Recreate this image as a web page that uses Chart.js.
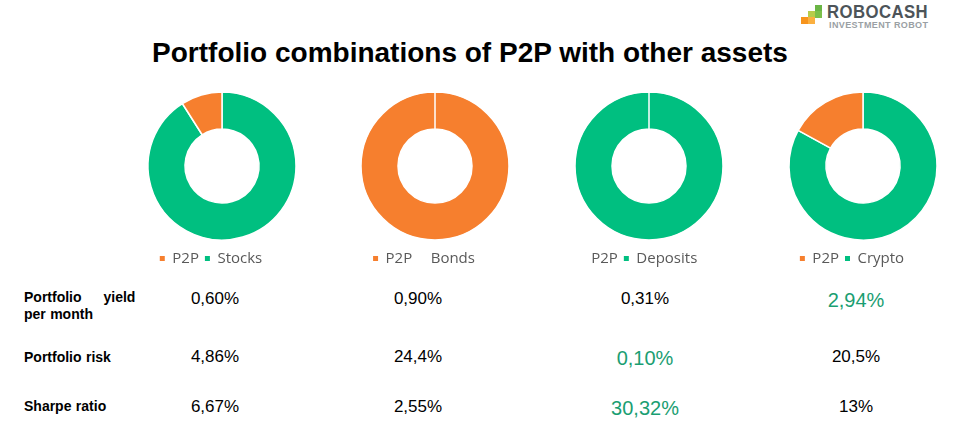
<!DOCTYPE html>
<html>
<head>
<meta charset="utf-8">
<script src="https://cdn.jsdelivr.net/npm/chart.js@4.4.1/dist/chart.umd.min.js"></script>
<style>
    body { margin: 0; background: #fff; width: 975px; height: 431px; position: relative; overflow: hidden; font-family: Arial, "Liberation Sans", sans-serif; }
    .title { position: absolute; left: 0; width: 940px; top: 37px; text-align: center; font-weight: bold; font-size: 28px; color: #000; }
    .chart-box { position: absolute; top: 87px; width: 214px; height: 189px; }
    .row-label { position: absolute; left: 24px; font-weight: bold; font-size: 14px; color: #000; white-space: pre; line-height: 17px; word-spacing: 0.5px; }
    .cell { position: absolute; width: 120px; margin-left: -60px; text-align: center; font-size: 17px; color: #000; }
    .cell.best { font-size: 20px; color: #1A9E72; }
    .logo-sq { position: absolute; width: 7px; height: 7px; }
    .logo-name { position: absolute; left: 827px; top: 1px; font-weight: bold; font-size: 19px; color: #4D5459; transform: scaleX(0.88); transform-origin: left top; letter-spacing: 0.5px; }
    .logo-sub { position: absolute; left: 829px; top: 20px; font-weight: bold; font-size: 9px; color: #9AA0A4; letter-spacing: 0.4px; }
</style>
</head>
<body>

<div class="title">Portfolio combinations of P2P with other assets</div>

<div id="logo"></div>
<div class="logo-name">ROBOCASH</div>
<div class="logo-sub">INVESTMENT ROBOT</div>

<div id="charts"></div>
<div id="table"></div>

<script>
    // categories and shares (percent of portfolio)
    let assets = ["Stocks", "Bonds", "Deposits", "Crypto"];
    let p2pShare = [9, 100, 0, 17];
    let assetShare = [91, 0, 100, 83];

    // table below the doughnuts
    let rowLabels = ["Portfolio     yield\nper month", "Portfolio risk", "Sharpe ratio"];
    let yieldValues = ["0,60%", "0,90%", "0,31%", "2,94%"];
    let riskValues = ["4,86%", "24,4%", "0,10%", "20,5%"];
    let sharpeValues = ["6,67%", "2,55%", "30,32%", "13%"];
    let bestCol = [3, 2, 2]; // highlighted (green) column per row

    let orange = "#F67F2E";
    let green = "#00BF80";

    let centersX = [222, 435, 649, 863];

    // logo squares
    let logoSquares = [
        [815, 5, "#6AB545"],
        [808, 11, "#B8CC4A"], [815, 11, "#7CC04A"],
        [801, 17, "#F7941D"], [808, 17, "#FBB040"]
    ];
    logoSquares.forEach(s => {
        let d = document.createElement("div");
        d.className = "logo-sq";
        d.style.left = s[0] + "px";
        d.style.top = s[1] + "px";
        d.style.background = s[2];
        document.getElementById("logo").appendChild(d);
    });

    // legend sits a bit left of the doughnut centre
    let legendShift = {
        id: "legendShift",
        afterLayout(chart) {
            chart.legend.left -= 11;
            chart.legend.right -= 11;
        }
    };

    // doughnuts
    assets.forEach((name, i) => {
        let box = document.createElement("div");
        box.className = "chart-box";
        box.style.left = (centersX[i] - 107) + "px";
        let cv = document.createElement("canvas");
        box.appendChild(cv);
        document.getElementById("charts").appendChild(box);

        new Chart(cv, {
            type: "doughnut",
            data: {
                // asset first so P2P sits left of 12 o'clock
                labels: [name, "P2P"],
                datasets: [{
                    data: [assetShare[i], p2pShare[i]],
                    backgroundColor: [green, orange],
                    borderColor: "#fff",
                    borderWidth: 1.5
                }]
            },
            plugins: [legendShift],
            options: {
                responsive: true,
                maintainAspectRatio: false,
                animation: false,
                radius: 74,
                cutout: "50%",
                plugins: {
                    tooltip: { enabled: false },
                    legend: {
                        position: "bottom",
                        reverse: true,
                        labels: {
                            boxWidth: 5,
                            boxHeight: 5,
                            padding: 6,
                            color: "#595959",
                            font: { family: "'Open Sans', 'Noto Sans', sans-serif", size: 15 },
                            generateLabels: function(chart) {
                                let ds = chart.data.datasets[0];
                                return chart.data.labels.map((l, k) => ({
                                    text: l,
                                    fillStyle: ds.data[k] > 0 ? ds.backgroundColor[k] : "rgba(0,0,0,0)",
                                    strokeStyle: "rgba(0,0,0,0)",
                                    lineWidth: 0,
                                    fontColor: "#595959",
                                    index: k
                                }));
                            }
                        }
                    }
                }
            }
        });
    });

    // table
    let table = document.getElementById("table");
    let labelTops = [289, 349, 398];
    rowLabels.forEach((t, r) => {
        let d = document.createElement("div");
        d.className = "row-label";
        d.style.top = labelTops[r] + "px";
        d.textContent = t;
        table.appendChild(d);
    });

    let rows = [yieldValues, riskValues, sharpeValues];
    let rowCenters = [299, 357, 407];
    let colCenters = [215, 418, 645, 856];
    rows.forEach((vals, r) => {
        vals.forEach((v, c) => {
            let d = document.createElement("div");
            let best = bestCol[r] == c;
            d.className = "cell" + (best ? " best" : "");
            d.style.left = colCenters[c] + "px";
            let fs = best ? 20 : 17;
            d.style.top = (rowCenters[r] - fs * 0.58 + (best ? 1.5 : 0)) + "px";
            d.textContent = v;
            table.appendChild(d);
        });
    });
</script>
</body>
</html>
